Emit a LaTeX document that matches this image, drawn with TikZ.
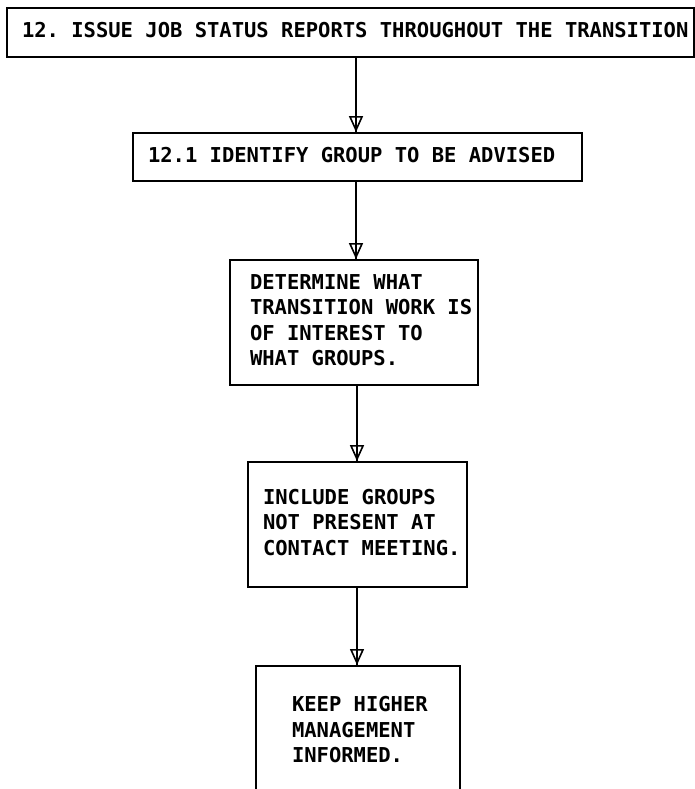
\documentclass[tikz,border=0pt]{standalone}
\usepackage{fontspec}
\setmonofont{DejaVu Sans Mono}
\usetikzlibrary{arrows.meta,decorations.markings}
% left-aligned block of lines in a slot of fixed width
\newcommand{\textslot}[2]{\makebox[#1][l]{\begin{tabular}{@{}l@{}}#2\end{tabular}}}
\begin{document}
\begin{tikzpicture}[x=1pt,y=-1pt,
  box/.style={draw, line width=1.8pt, rectangle, inner ysep=0pt,
    font=\ttfamily\bfseries\fontsize{20.5}{25.5}\selectfont},
  flow/.style={draw, line width=2pt,
    decoration={markings, mark=at position 1 with
      {\arrow[line width=1.6pt]{Triangle[open,length=16pt,width=14pt]}}},
    postaction=decorate}]
\useasboundingbox (0,0) rectangle (695,789);
\clip (0,0) rectangle (695,789);

\node[box, inner xsep=15pt, minimum height=49pt] (top) at (350.5,32.5)
  {\textslot{657pt}{12. ISSUE JOB STATUS REPORTS THROUGHOUT THE TRANSITION}};
\node[box, inner xsep=15pt, minimum height=48pt] (ident) at (357.5,157)
  {\textslot{419pt}{12.1 IDENTIFY GROUP TO BE ADVISED}};
\node[box, inner xsep=20pt, minimum height=125pt] (determ) at (354,322.5)
  {\textslot{208pt}{DETERMINE WHAT\\TRANSITION WORK IS\\OF INTEREST TO\\WHAT GROUPS.}};
\node[box, inner xsep=15pt, minimum height=125pt] (incl) at (357.5,524.5)
  {\textslot{189pt}{INCLUDE GROUPS\\NOT PRESENT AT\\CONTACT MEETING.}};
\node[box, inner xsep=36pt, inner ysep=28pt, anchor=north] (keep) at (358,665)
  {\textslot{132pt}{KEEP HIGHER\\MANAGEMENT\\INFORMED.}};

\draw[flow] (top.south -| 356,0) -- (ident.north -| 356,0);
\draw[flow] (ident.south -| 356,0) -- (determ.north -| 356,0);
\draw[flow] (determ.south -| 357,0) -- (incl.north -| 357,0);
\draw[flow] (incl.south -| 357,0) -- (keep.north -| 357,0);
\end{tikzpicture}
\end{document}
